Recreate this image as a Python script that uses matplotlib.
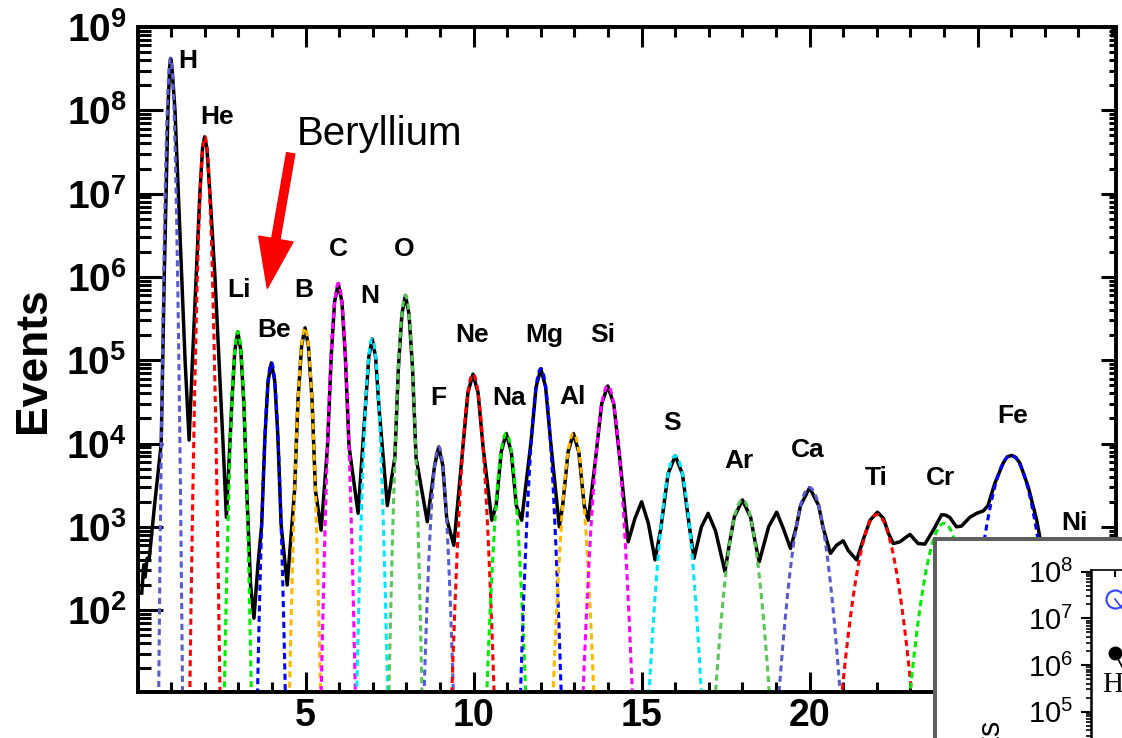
"""Charge spectrum (Z = 1 .. 28) with per-element Gaussian fits."""

import numpy as np
import matplotlib
matplotlib.use("Agg")
import matplotlib.pyplot as plt
from matplotlib.patches import Rectangle
from matplotlib.ticker import (LogLocator, NullFormatter, FuncFormatter,
                               MultipleLocator)

plt.rcParams["font.family"] = ["Liberation Sans", "DejaVu Sans"]
plt.rcParams["mathtext.fontset"] = "custom"
plt.rcParams["mathtext.rm"] = "Liberation Sans"
plt.rcParams["mathtext.bf"] = "Liberation Sans:bold"
plt.rcParams["mathtext.it"] = "Liberation Sans:italic"

# measured spectrum (reconstructed charge vs events)
SPEC_Z = [
    0.12, 0.18, 0.22, 0.28, 0.34, 0.50, 0.70, 0.79, 0.90, 0.95, 0.98, 1.02,
    1.11, 1.21, 1.31, 1.41, 1.53, 1.63, 1.74, 1.85, 1.93, 1.99, 2.06, 2.15,
    2.30, 2.42, 2.54, 2.64, 2.72, 2.80, 2.89, 2.98, 3.07, 3.16, 3.25, 3.36,
    3.46, 3.58, 3.69, 3.79, 3.88, 3.98, 4.08, 4.17, 4.27, 4.45, 4.67, 4.77,
    4.88, 4.98, 5.08, 5.19, 5.29, 5.46, 5.65, 5.76, 5.86, 5.97, 6.08, 6.18,
    6.29, 6.56, 6.77, 6.88, 6.98, 7.08, 7.19, 7.43, 7.655, 7.76, 7.865, 7.97,
    8.075, 8.18, 8.285, 8.62, 8.84, 8.96, 9.08, 9.20, 9.41, 9.68, 9.83, 9.98,
    10.13, 10.28, 10.54, 10.67, 10.82, 10.97, 11.12, 11.27, 11.43, 11.71,
    11.86, 12.00, 12.14, 12.29, 12.55, 12.65, 12.81, 12.97, 13.13, 13.29,
    13.41, 13.63, 13.81, 13.99, 14.17, 14.35, 14.60, 14.80, 15.00, 15.20,
    15.40, 15.57, 15.785, 16.00, 16.215, 16.43, 16.56, 16.78, 16.98, 17.20,
    17.48, 17.62, 17.755, 18.00, 18.245, 18.38, 18.50, 18.78, 19.02, 19.22,
    19.43, 19.60, 19.73, 20.00, 20.27, 20.40, 20.62, 20.80, 21.00, 21.15,
    21.40, 21.60, 21.80, 22.02, 22.20, 22.35, 22.49, 22.69, 22.85, 22.99,
    23.10, 23.23, 23.43, 23.68, 23.93, 24.05, 24.17, 24.37, 24.52, 24.77,
    24.97, 25.17, 25.31, 25.51, 25.76, 25.88, 26.01, 26.14, 26.26, 26.51,
    26.76, 26.85, 27.00,
]
SPEC_EVENTS = [
    160, 350, 250, 420, 400, 1.8e3, 1.0e4, 1.0e6, 1.0e8, 3.2e8, 4.2e8, 3.3e8,
    1.0e8, 1.0e7, 1.0e6, 1.0e5, 1.1e4, 1.0e5, 1.0e6, 1.0e7, 3.5e7, 4.8e7,
    3.5e7, 1.0e7, 1.0e6, 1.0e5, 1.0e4, 1.3e3, 6.3e3, 3.0e4, 1.3e5, 2.2e5,
    1.3e5, 3.0e4, 2.5e3, 200, 80, 350, 1.05e3, 1.26e4, 5.6e4, 9.3e4, 5.6e4,
    1.26e4, 1.05e3, 200, 2.75e3, 3.3e4, 1.5e5, 2.45e5, 1.5e5, 3.3e4, 2.75e3,
    910, 9.3e3, 1.12e5, 5.0e5, 8.3e5, 5.0e5, 1.12e5, 9.3e3, 1.45e3, 2.45e4,
    1.1e5, 1.8e5, 1.1e5, 2.45e4, 1.8e3, 6.8e3, 8.1e4, 3.6e5, 6.0e5, 3.6e5,
    8.1e4, 6.8e3, 1.15e3, 5.5e3, 9.1e3, 5.5e3, 1.23e3, 600, 9.1e3, 4.1e4,
    6.8e4, 4.1e4, 9.1e3, 1.2e3, 1.8e3, 7.9e3, 1.32e4, 7.9e3, 1.8e3, 1.2e3,
    1.07e4, 4.8e4, 7.9e4, 4.8e4, 1.07e4, 1.0e3, 1.8e3, 7.9e3, 1.32e4, 7.9e3,
    1.8e3, 1.2e3, 6.6e3, 3.0e4, 4.9e4, 3.0e4, 6.6e3, 660, 1.26e3, 2.0e3,
    1.1e3, 400, 950, 4.3e3, 7.1e3, 4.3e3, 950, 420, 1.0e3, 1.45e3, 890, 290,
    650, 1.3e3, 2.1e3, 1.3e3, 650, 380, 1.0e3, 1.5e3, 950, 550, 980, 1.8e3,
    2.95e3, 1.8e3, 980, 480, 600, 680, 520, 400, 710, 1.2e3, 1.5e3, 1.26e3,
    830, 630, 660, 740, 810, 720, 630, 620, 910, 1.4e3, 1.38e3, 1.3e3, 1.0e3,
    1.02e3, 1.3e3, 1.45e3, 1.55e3, 1.8e3, 3.3e3, 5.8e3, 6.9e3, 7.2e3, 6.8e3,
    5.8e3, 3.0e3, 1.2e3, 760, 400,
]

# Gaussian fit per element: centre, peak height, width
FIT_ELEMENTS = ["H", "He", "Li", "Be", "B", "C", "N", "O", "F", "Ne", "Na",
                "Mg", "Al", "Si", "S", "Ar", "Ca", "Ti", "Cr", "Fe"]
FIT_CENTER = [0.98, 2.0, 2.98, 3.98, 4.98, 5.97, 6.98, 7.97, 8.96, 9.98,
              10.97, 12.0, 12.97, 13.99, 16.0, 18.0, 20.0, 22.0, 24.0, 26.0]
FIT_PEAK = [4.2e8, 4.8e7, 2.2e5, 9.3e4, 2.45e5, 8.3e5, 1.8e5, 6.0e5, 9.1e3,
            6.8e4, 1.32e4, 7.9e4, 1.32e4, 4.9e4, 7.1e3, 2.1e3, 2.95e3, 1.4e3,
            1.1e3, 7.2e3]
FIT_SIGMA = [0.06, 0.081, 0.09, 0.097, 0.103, 0.107, 0.104, 0.105, 0.118,
             0.15, 0.153, 0.143, 0.16, 0.178, 0.215, 0.245, 0.27, 0.33, 0.33,
             0.37]
FIT_COLORS = ["#5a5ad2", "#ff0000", "#00ee00", "#0000ff",
              "#ffb800", "#ff00ff", "#00e8ff", "#55c855"]

# element names drawn over the peaks, and where they sit (baseline)
LABELS = FIT_ELEMENTS + ["Ni"]
LABEL_Z = [1.50, 2.35, 3.03, 4.06, 4.95, 5.96, 6.91, 7.93, 8.95, 9.94,
           11.05, 12.10, 12.93, 13.85, 15.89, 17.90, 19.93, 21.99, 23.90,
           26.04, 27.87]
LABEL_Y = [3.2e8, 6.9e7, 5.8e5, 1.9e5, 5.8e5, 1.8e6, 4.8e5, 1.8e6, 2.9e4,
           1.66e5, 2.9e4, 1.66e5, 3.0e4, 1.66e5, 1.45e4, 5.1e3, 6.9e3, 3.2e3,
           3.2e3, 1.74e4, 910]

# inset points
INSET_BLUE_X = [1, 2]
INSET_BLUE_Y = [2.6e7, 7.0e6]
INSET_BLACK_X = [1, 2]
INSET_BLACK_Y = [1.8e6, 2.7e5]

W, H = 1122, 738
YMIN, YMAX = 10 ** 1.017, 1e9


def fx(px):
    return px / W


def fy(py):
    return 1 - py / H


fig = plt.figure(figsize=(W / 100, H / 100), dpi=100)
fig.patch.set_facecolor("white")

ax = fig.add_axes([fx(137.7), fy(692), (1116 - 137.7) / W, (692 - 27) / H])

ax.plot(SPEC_Z, SPEC_EVENTS, color="black", lw=2.5,
        solid_joinstyle="round", zorder=2)

for i, (z0, amp, sig) in enumerate(zip(FIT_CENTER, FIT_PEAK, FIT_SIGMA)):
    dz = sig * np.sqrt(2 * np.log(amp / YMIN)) * 1.05
    zz = np.linspace(z0 - dz, z0 + dz, 400)
    ax.plot(zz, amp * np.exp(-0.5 * ((zz - z0) / sig) ** 2),
            color=FIT_COLORS[i % len(FIT_COLORS)], lw=2.2,
            dashes=(2.0, 1.4), zorder=3)

for name, lz, ly in zip(LABELS, LABEL_Z, LABEL_Y):
    ax.text(lz, ly, name, ha="center", va="baseline", fontsize=19,
            fontweight="bold", zorder=5)

ax.text(4.74, 3.8e7, "Beryllium", ha="left", va="baseline", fontsize=29,
        zorder=5)
ax.annotate("", xy=(267.3, H - 288.3), xytext=(290.7, H - 153.3),
            xycoords="figure pixels", textcoords="figure pixels",
            arrowprops=dict(arrowstyle="simple,head_length=1.8,"
                                       "head_width=1.25,tail_width=0.3",
                            mutation_scale=20, color="red",
                            shrinkA=0, shrinkB=0),
            annotation_clip=False)

ax.set_yscale("log")
ax.set_xlim(0, 29.12)
ax.set_ylim(YMIN, YMAX)

# the label under 25 sits behind the inset panel
ax.set_xticks([5, 10, 15, 20, 25])
ax.set_xticklabels(["5", "10", "15", "20", ""], fontsize=27,
                   fontweight="bold")
ax.xaxis.set_minor_locator(MultipleLocator(1))
ax.yaxis.set_major_locator(LogLocator(base=10, numticks=20))
ax.yaxis.set_minor_locator(LogLocator(base=10, subs=np.arange(2, 10),
                                      numticks=20))
ax.yaxis.set_minor_formatter(NullFormatter())
ax.yaxis.set_major_formatter(
    FuncFormatter(lambda v, p: r"$\mathbf{10^{%d}}$" % round(np.log10(v))))

ax.tick_params(axis="both", which="both", direction="in", width=2.2,
               color="black")
ax.tick_params(axis="x", which="major", length=14.4, top=True, pad=4)
ax.tick_params(axis="x", which="minor", length=7.2, top=True)
ax.tick_params(axis="y", which="major", length=18, right=False,
               labelsize=28, pad=8)
ax.tick_params(axis="y", which="minor", length=9.4, right=False)
for sp in ax.spines.values():
    sp.set_linewidth(2.6)

# right-hand ticks are shorter than the left ones
ax_r = ax.twinx()
ax_r.set_yscale("log")
ax_r.set_ylim(YMIN, YMAX)
ax_r.yaxis.set_major_locator(LogLocator(base=10, numticks=20))
ax_r.yaxis.set_minor_locator(LogLocator(base=10, subs=np.arange(2, 10),
                                        numticks=20))
ax_r.yaxis.set_minor_formatter(NullFormatter())
ax_r.tick_params(axis="y", which="both", direction="in", width=2.2,
                 labelright=False)
ax_r.tick_params(axis="y", which="major", length=10.8)
ax_r.tick_params(axis="y", which="minor", length=5)
for sp in ax_r.spines.values():
    sp.set_linewidth(2.6)

fig.text(fx(34), fy(360), "Events", rotation=90, ha="center", va="center",
         fontsize=32, fontweight="bold")

# inset panel in the lower right corner
box = Rectangle((fx(935), -0.2), 1.0, fy(539) + 0.2,
                transform=fig.transFigure, facecolor="white",
                edgecolor="#5f5f5f", lw=2.9, zorder=4)
fig.add_artist(box)

ins_top, ins_bot = 570, 770
ins = fig.add_axes([fx(1091), fy(ins_bot), (1300 - 1091) / W,
                    (ins_bot - ins_top) / H])
ins.set_zorder(5)
ins.set_yscale("log")
ins.set_ylim(10 ** (8.036 - (ins_bot - ins_top) / 46.7), 10 ** 8.036)
ins.set_xlim(-0.2, -0.2 + (1300 - 1091) / 20)
ins.plot(INSET_BLUE_X, INSET_BLUE_Y, color="#3344ff", lw=1.2, marker="o",
         mfc="none", mec="#3344ff", ms=13, mew=1.5)
ins.plot(INSET_BLACK_X, INSET_BLACK_Y, color="black", lw=1.2, marker="o",
         ms=9)
ins.text(0.35, 10 ** 5.42, "H", family="Liberation Serif", fontsize=21,
         ha="left", va="baseline")
ins.yaxis.set_major_locator(LogLocator(base=10, numticks=20))
ins.yaxis.set_minor_locator(LogLocator(base=10, subs=np.arange(2, 10),
                                       numticks=20))
ins.yaxis.set_minor_formatter(NullFormatter())
ins.yaxis.set_major_formatter(
    FuncFormatter(lambda v, p: r"$\mathrm{10^{%d}}$" % round(np.log10(v))))
ins.tick_params(axis="y", which="major", direction="out", length=7,
                width=1.5, labelsize=21, pad=6)
ins.tick_params(axis="y", which="minor", direction="out", length=3.5,
                width=1.2)
ins.xaxis.tick_top()
ins.set_xticks([1, 2, 3])
ins.set_xticklabels([])
ins.xaxis.set_minor_locator(plt.NullLocator())
ins.tick_params(axis="x", direction="in", length=5, width=1.5)
ins.spines["left"].set_linewidth(1.8)
ins.spines["top"].set_linewidth(1.2)
ins.spines["right"].set_visible(False)
ins.spines["bottom"].set_visible(False)

fig.text(fx(989.5), fy(718), "Events", rotation=90, ha="center", va="top",
         fontsize=22, zorder=6)

fig.savefig("out.png", dpi=100)
